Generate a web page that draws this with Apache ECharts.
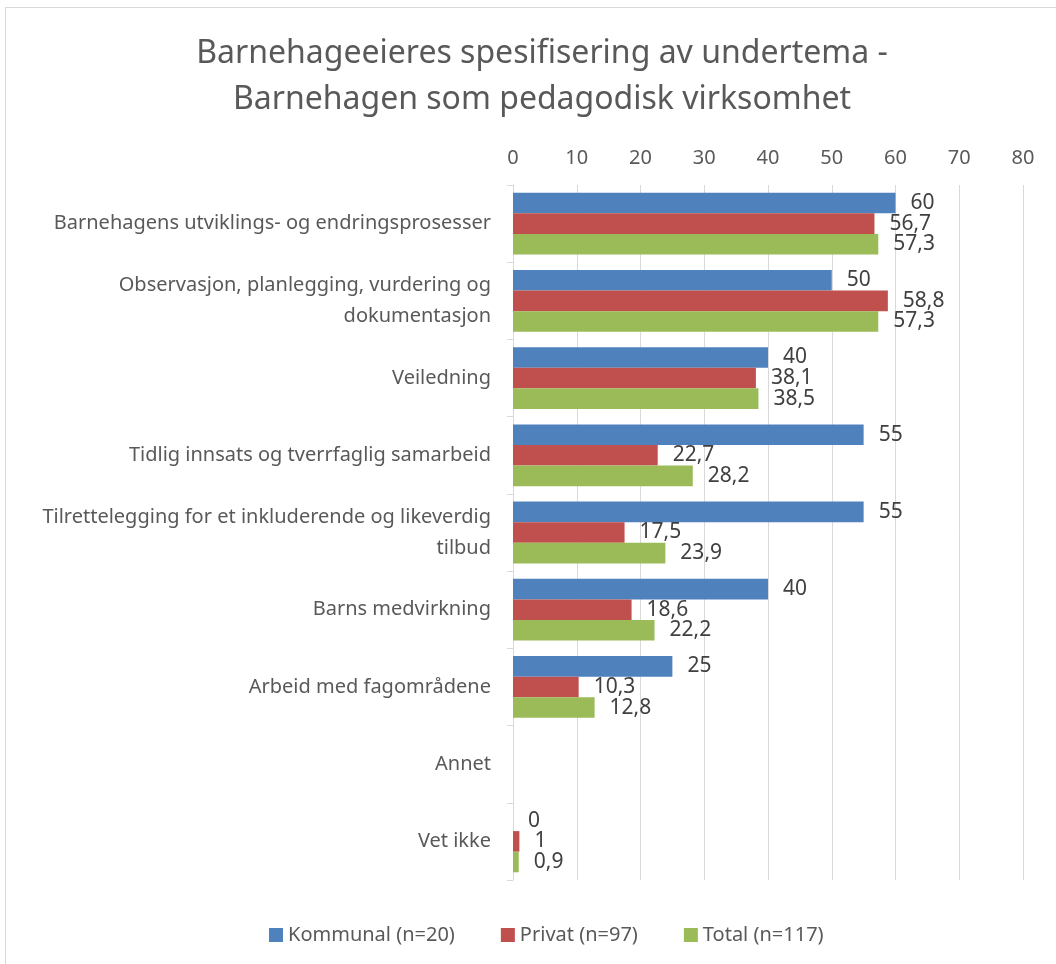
<!DOCTYPE html>
<html>
<head>
<meta charset="utf-8">
<title>Barnehageeieres spesifisering av undertema</title>
<script src="https://cdn.jsdelivr.net/npm/echarts@6/dist/echarts.min.js"></script>
<style>
  html, body { margin: 0; padding: 0; background: #fff; overflow: hidden; }
  #frame { position: absolute; left: 5px; top: 7px; width: 1100px; height: 1000px; border: 1px solid #d9d9d9; }
  #chart { position: absolute; left: 0; top: 0; width: 1056px; height: 964px; }
</style>
</head>
<body>
<div id="frame"></div>
<div id="chart"></div>
<script>
// kategorier (linjeskift som i originalen)
const categories = [
  'Barnehagens utviklings- og endringsprosesser',
  'Observasjon, planlegging, vurdering og\ndokumentasjon',
  'Veiledning',
  'Tidlig innsats og tverrfaglig samarbeid',
  'Tilrettelegging for et inkluderende og likeverdig\ntilbud',
  'Barns medvirkning',
  'Arbeid med fagområdene',
  'Annet',
  'Vet ikke'
]
const kommunal = [60, 50, 40, 55, 55, 40, 25, '-', 0]
const privat = [56.7, 58.8, 38.1, 22.7, 17.5, 18.6, 10.3, '-', 1]
const total = [57.3, 57.3, 38.5, 28.2, 23.9, 22.2, 12.8, '-', 0.9]
const seriesNames = ['Kommunal (n=20)', 'Privat (n=97)', 'Total (n=117)']
const xTicks = { min: 0, max: 80, interval: 10 }

const textColor = '#595959'
const font = 'Noto Sans'

function barSeries(name, data, color) {
  return {
    name: name,
    type: 'bar',
    barGap: '0%',
    barCategoryGap: '20%',
    itemStyle: { color: color },
    label: {
      show: true,
      position: 'right',
      distance: 15,
      color: '#404040',
      fontFamily: font,
      fontSize: 21,
      formatter: function (p) {
        return String(p.value).replace('.', ',')
      }
    },
    data: data
  }
}

let chart = echarts.init(document.getElementById('chart'), null, { renderer: 'canvas' })
chart.setOption({
  animation: false,
  title: {
    text: 'Barnehageeieres spesifisering av undertema -\nBarnehagen som pedagodisk virksomhet',
    left: 537,
    top: 26,
    textAlign: 'center',
    textStyle: {
      color: textColor,
      fontFamily: font,
      fontSize: 32,
      fontWeight: 'normal',
      lineHeight: 46
    }
  },
  legend: {
    bottom: 14,
    left: 264,
    itemWidth: 14,
    itemHeight: 14,
    itemGap: 46,
    icon: 'rect',
    textStyle: { color: textColor, fontFamily: font, fontSize: 20 },
    data: seriesNames
  },
  grid: {
    left: 513,
    right: 33,
    top: 185,
    bottom: 84
  },
  xAxis: {
    type: 'value',
    position: 'top',
    min: xTicks.min,
    max: xTicks.max,
    interval: xTicks.interval,
    axisLine: { show: false },
    axisTick: { show: false },
    axisLabel: { color: textColor, fontFamily: font, fontSize: 20, margin: 17 },
    splitLine: { show: true, lineStyle: { color: '#d9d9d9', width: 1 } }
  },
  yAxis: {
    type: 'category',
    inverse: true,
    data: categories,
    axisLine: { show: true, lineStyle: { color: '#d9d9d9', width: 1 } },
    axisTick: { show: true, length: 6, lineStyle: { color: '#d9d9d9' } },
    axisLabel: {
      color: textColor,
      fontFamily: font,
      fontSize: 20,
      lineHeight: 31,
      margin: 22
    }
  },
  series: [
    barSeries(seriesNames[0], kommunal, '#4f81bd'),
    barSeries(seriesNames[1], privat, '#c0504d'),
    barSeries(seriesNames[2], total, '#9bbb59')
  ]
})
</script>
</body>
</html>
